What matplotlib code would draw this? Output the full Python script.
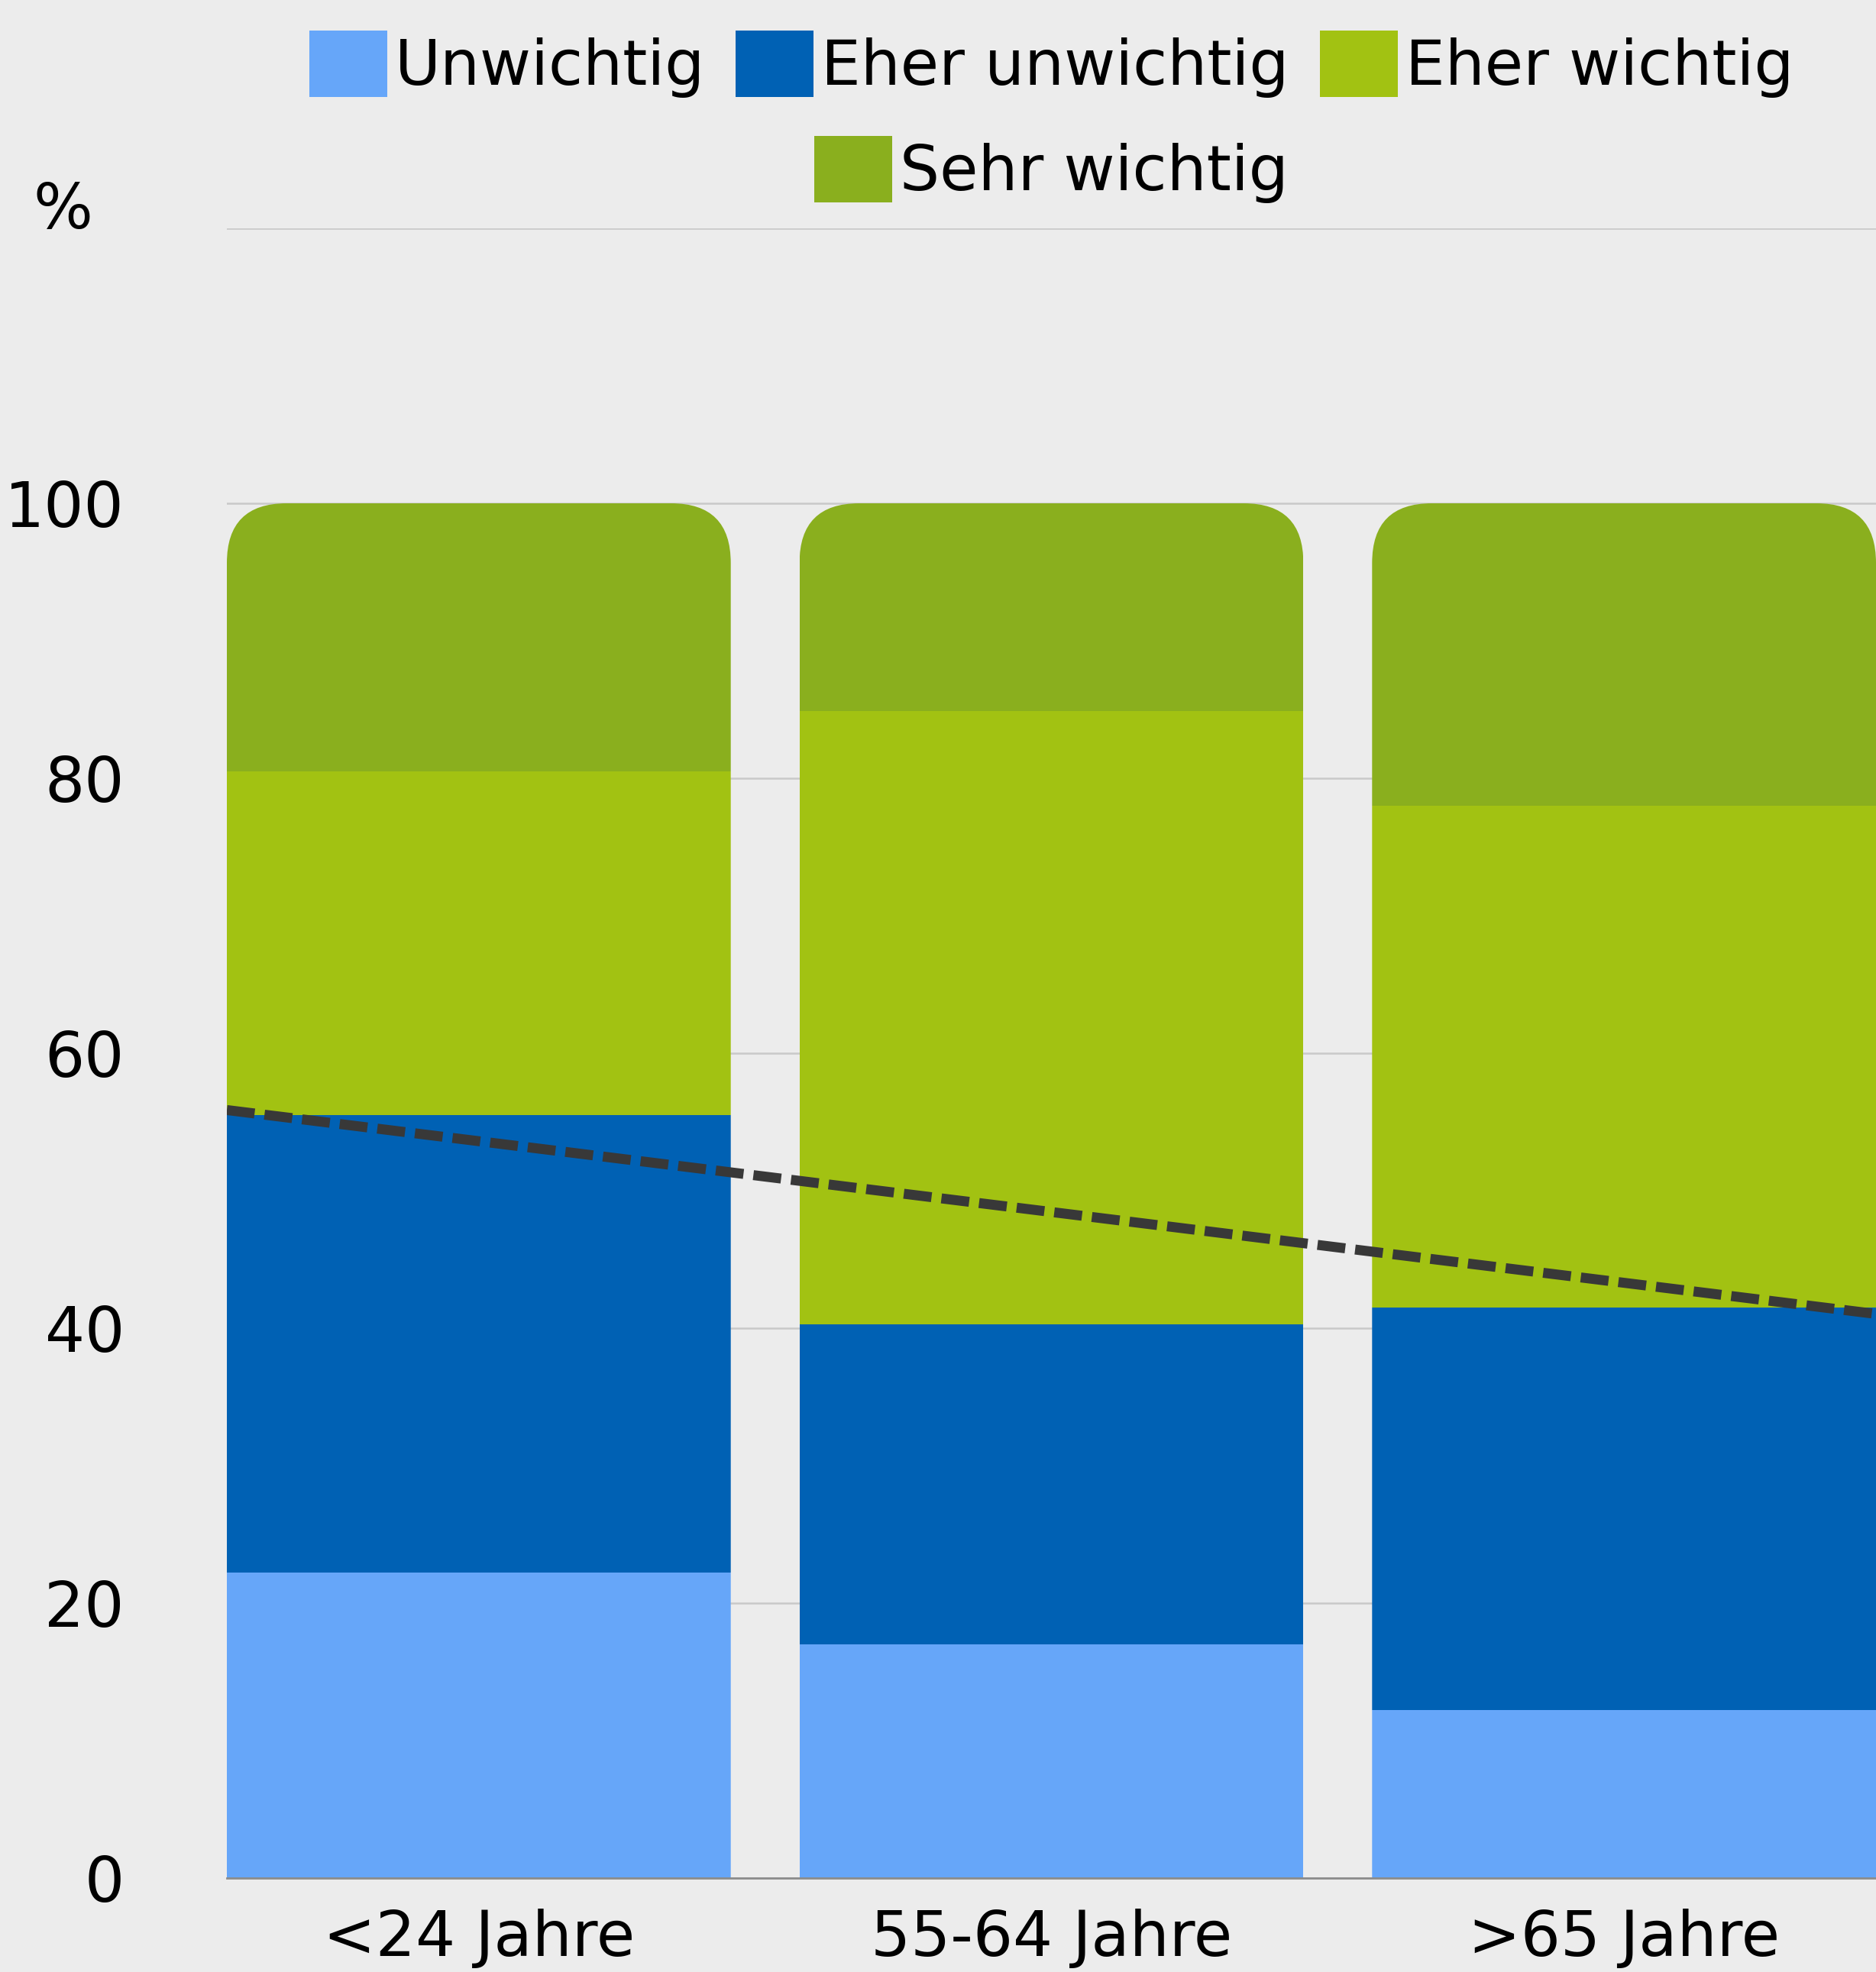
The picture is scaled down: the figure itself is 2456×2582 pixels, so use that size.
import numpy as np
import matplotlib
matplotlib.use("Agg")
import matplotlib.pyplot as plt
from matplotlib.patches import FancyBboxPatch, Patch

plt.rcParams['font.family'] = ['DejaVu Sans']

# Age groups and answer shares (percent)
categories = ["<24 Jahre", "55-64 Jahre", ">65 Jahre"]
series_names = ["Unwichtig", "Eher unwichtig", "Eher wichtig", "Sehr wichtig"]
unwichtig = [22.2, 17.0, 12.2]
eher_unwichtig = [33.3, 23.3, 29.3]
eher_wichtig = [25.0, 44.6, 36.5]
sehr_wichtig = [19.5, 15.1, 22.0]
series_values = [unwichtig, eher_unwichtig, eher_wichtig, sehr_wichtig]
series_colors = ["#66A6F9", "#0061B4", "#A2C212", "#8AAF1E"]

# Linear trend of the "unimportant" share, at the first and last group
trend_values = [53.6, 43.3]

y_ticks = [0, 20, 40, 60, 80, 100, 120]
y_tick_labels = ["0", "20", "40", "60", "80", "100", ""]

BG = "#ECECEC"
FS = 29.5
DPI = 200


def px(v):
    """Pixels at the output resolution to points."""
    return v * 72 / DPI


fig = plt.figure(figsize=(12.28, 12.91), dpi=DPI, facecolor=BG)
ax = fig.add_axes([297 / 2456, 123 / 2582, 2159 / 2456, 2160 / 2582])
ax.set_facecolor(BG)

x = np.arange(len(categories))
width = 0.88
ax.set_xlim(-0.44, len(categories) - 1 + 0.44)
ax.set_ylim(0, 120)

# Gridlines behind the bars
ax.set_yticks(y_ticks)
ax.set_yticklabels(y_tick_labels, fontsize=FS)
ax.yaxis.grid(True, color="#C9C9C9", linewidth=0.9)
ax.set_axisbelow(True)
ax.tick_params(axis="y", length=0, pad=px(134))
ax.tick_params(axis="x", length=0, pad=px(40))
ax.set_xticks(x)
ax.set_xticklabels(categories, fontsize=FS)
for s in ["top", "right", "left"]:
    ax.spines[s].set_visible(False)
ax.spines["bottom"].set_color("#8C8C8C")
ax.spines["bottom"].set_linewidth(1.0)

# Stacked bars with rounded top corners
bottoms = np.zeros(len(categories))
containers = []
for vals, col in zip(series_values, series_colors):
    bc = ax.bar(x, vals, width=width, bottom=bottoms, color=col,
                linewidth=0, zorder=2)
    containers.append(bc)
    bottoms = bottoms + np.array(vals)

px_per_x = 2159 / (2 * 0.44 + len(categories) - 1)
px_per_y = 2160 / 120
radius_x = 78 / px_per_x
aspect = (78 / px_per_y) / radius_x
for i, xi in enumerate(x):
    clip = FancyBboxPatch((xi - width / 2, -30), width, bottoms[i] + 30,
                          boxstyle=f"round,pad=0,rounding_size={radius_x}",
                          mutation_aspect=aspect, transform=ax.transData,
                          facecolor="none", edgecolor="none")
    ax.add_patch(clip)
    clip.set_visible(False)
    for bc in containers:
        bc[i].set_clip_path(clip)

# Dashed trend line across the plot
slope = (trend_values[1] - trend_values[0]) / (x[-1] - x[0])
xl = np.array(ax.get_xlim())
ax.plot(xl, trend_values[0] + slope * (xl - x[0]), color="#383838",
        linewidth=4.7, linestyle=(0, (2.8, 1.0)), zorder=3,
        solid_capstyle="butt", dash_capstyle="butt")

# Unit label at the top of the value axis
ax.annotate("%", xy=(0, 120), xycoords=("axes fraction", "data"),
            xytext=(px(-215), px(22)), textcoords="offset points",
            ha="center", va="center", fontsize=FS)

# Legend: three entries on the first row, one on the second
handles = [Patch(facecolor=c, edgecolor="none") for c in series_colors]
fpx = FS * DPI / 72
common = dict(frameon=False, fontsize=FS, handlelength=102 / fpx,
              handleheight=102 / fpx, handletextpad=10 / fpx,
              columnspacing=40 / fpx, borderpad=0, borderaxespad=0)
cx = (297 + 2456) / 2 / 2456
fig.legend(handles[:3], series_names[:3], ncol=3, loc="center",
           bbox_to_anchor=(cx, 1 - 84 / 2582), **common)
fig.legend(handles[3:], series_names[3:], ncol=1, loc="center",
           bbox_to_anchor=(cx, 1 - 222 / 2582), **common)

fig.savefig("out.png", dpi=DPI, facecolor=BG)
